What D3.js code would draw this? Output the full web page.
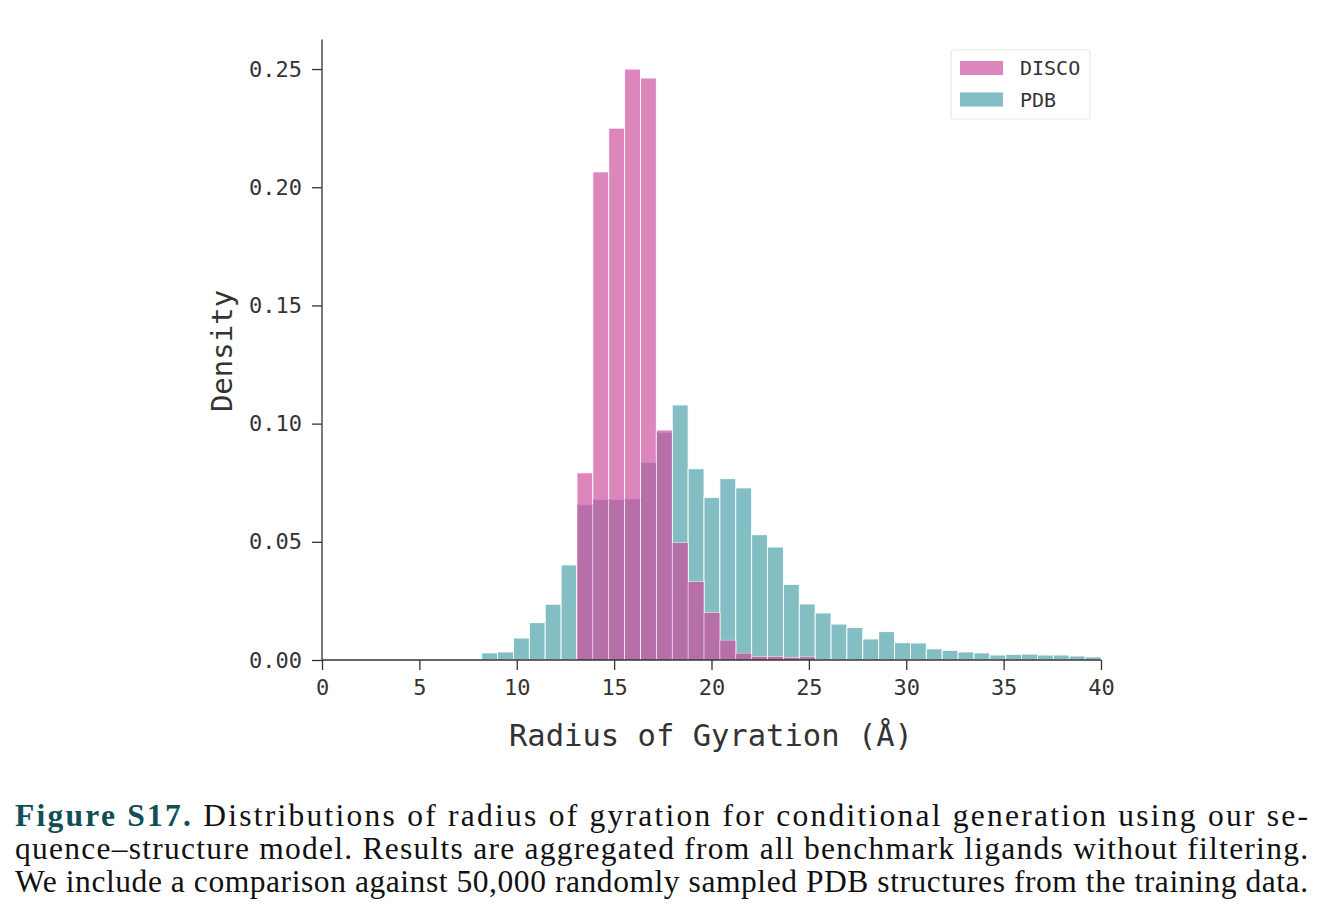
<!DOCTYPE html>
<html><head><meta charset="utf-8">
<script src="https://cdn.jsdelivr.net/npm/d3@7"></script>
<style>html,body{margin:0;padding:0;background:#fff;}svg{display:block;}</style>
</head><body>
<svg id="c" width="1326" height="922"></svg>
<script>
// ---- data ----
const binStart = 8.2;
const binEnd = 40;
const pdbDensity = [0.0030,0.0034,0.0093,0.0158,0.0236,0.0402,0.0656,0.0678,0.0678,0.0681,
  0.0835,0.0963,0.1079,0.0809,0.0688,0.0767,0.0728,0.0530,0.0478,0.0320,
  0.0237,0.0199,0.0152,0.0138,0.0089,0.0120,0.0073,0.0072,0.0047,0.0041,
  0.0034,0.0030,0.0021,0.0024,0.0025,0.0021,0.0021,0.0017,0.0013];
const discoDensity = [0,0,0,0,0,0,0.0792,0.2065,0.2250,0.2500,
  0.2462,0.0973,0.0496,0.0331,0.0200,0.0083,0.0028,0.0014,0.0014,0.0010,
  0.0012,0,0,0,0,0,0,0,0,0,0,0,0,0,0,0,0,0,0];
const xTicks = [0,5,10,15,20,25,30,35,40];
const yTicks = [0,0.05,0.10,0.15,0.20,0.25];
const seriesNames = ["DISCO","PDB"];
const captionLines = [
  "Distributions of radius of gyration for conditional generation using our se-",
  "quence\u2013structure model. Results are aggregated from all benchmark ligands without filtering.",
  "We include a comparison against 50,000 randomly sampled PDB structures from the training data."
];

const nb = pdbDensity.length;
const bw = (binEnd - binStart) / nb;
const bins = d3.range(nb).map(i => ({x0: binStart + i*bw, x1: binStart + (i+1)*bw, pdb: pdbDensity[i], disco: discoDensity[i]}));

const svg = d3.select("#c");
const x = d3.scaleLinear().domain([0,40]).range([322,1101]);
const y = d3.scaleLinear().domain([0,0.2625]).range([660,39.5]);

const PINK = "#dd86bd", TEAL = "#82bec3", MIX = "#b66fa7";
const mono = "'DejaVu Sans Mono', monospace";

const g = svg.append("g");
// PDB bars
g.selectAll("rect.pdb").data(bins).join("rect")
  .attr("x", d => x(d.x0)).attr("width", d => x(d.x1)-x(d.x0))
  .attr("y", d => y(d.pdb)).attr("height", d => y(0)-y(d.pdb))
  .attr("fill", TEAL).attr("stroke", "#fff").attr("stroke-width", 0.9);
// DISCO bars
g.selectAll("rect.disco").data(bins.filter(d=>d.disco>0)).join("rect")
  .attr("x", d => x(d.x0)).attr("width", d => x(d.x1)-x(d.x0))
  .attr("y", d => y(d.disco)).attr("height", d => y(0)-y(d.disco))
  .attr("fill", PINK).attr("stroke", "#fff").attr("stroke-width", 0.9);
// overlap
g.selectAll("rect.mix").data(bins.filter(d=>d.disco>0)).join("rect")
  .attr("x", d => x(d.x0)+0.45).attr("width", d => x(d.x1)-x(d.x0)-0.9)
  .attr("y", d => y(Math.min(d.disco,d.pdb))).attr("height", d => y(0)-y(Math.min(d.disco,d.pdb)))
  .attr("fill", MIX);
g.selectAll("line.mix").data(bins.filter(d=>d.disco>0 && d.pdb<d.disco)).join("line")
  .attr("x1", d => x(d.x0)).attr("x2", d => x(d.x1))
  .attr("y1", d => y(d.pdb)).attr("y2", d => y(d.pdb))
  .attr("stroke", "#c98cbb").attr("stroke-width", 0.8);

// axes
const xAxis = svg.append("g").attr("transform","translate(0,660)")
  .call(d3.axisBottom(x).tickValues(xTicks).tickFormat(d3.format("d")).tickSize(10).tickPadding(9));
const yAxis = svg.append("g").attr("transform","translate(322,0)")
  .call(d3.axisLeft(y).tickValues(yTicks).tickFormat(d3.format(".2f")).tickSize(10).tickPadding(10));
[xAxis,yAxis].forEach(a => {
  a.select(".domain").attr("stroke","#333").attr("stroke-width",1.3);
  a.selectAll(".tick line").attr("stroke","#333").attr("stroke-width",1.3);
  a.selectAll(".tick text").attr("fill","#333").style("font-family",mono).style("font-size","22px");
});
xAxis.select(".domain").attr("d", `M${x(0)},0H${x(40)}`);
yAxis.select(".domain").attr("d", `M0,${y(0)}V${y(0.2625)}`);

// axis labels
svg.append("text").attr("x", 711).attr("y", 746).attr("text-anchor","middle")
  .style("font-family",mono).style("font-size","30.5px").attr("fill","#333")
  .text("Radius of Gyration (\u00c5)");
svg.append("text").attr("transform","translate(232,351) rotate(-90)").attr("text-anchor","middle")
  .style("font-family",mono).style("font-size","29px").attr("fill","#333")
  .text("Density");

// legend
const lg = svg.append("g");
lg.append("rect").attr("x",951).attr("y",50).attr("width",139).attr("height",69).attr("rx",3)
  .attr("fill","#fff").attr("stroke","#ebe8dc").attr("stroke-width",1.2);
const legColors = [PINK, TEAL];
seriesNames.forEach((n,i) => {
  lg.append("rect").attr("x",960).attr("y",61+i*31.5).attr("width",43).attr("height",14).attr("fill",legColors[i]);
  lg.append("text").attr("x",1020).attr("y",75+i*31.5).style("font-family",mono).style("font-size","20px")
    .attr("fill","#333").text(n);
});

// caption
const serif = "'Liberation Serif', serif";
const cap = svg.append("g");
const l1 = cap.append("text").attr("x",15).attr("y",826).style("font-family",serif).style("font-size","31.5px")
  .attr("textLength",1293).attr("lengthAdjust","spacing");
l1.append("tspan").attr("font-weight","bold").attr("fill","#114e58").text("Figure S17.");
l1.append("tspan").attr("fill","#111").text(" " + captionLines[0]);
captionLines.slice(1).forEach((t,i) => {
  cap.append("text").attr("x",15).attr("y",859+i*33).style("font-family",serif).style("font-size","31.5px")
    .attr("fill","#111").attr("textLength",1293).attr("lengthAdjust","spacing").text(t);
});
</script>
</body></html>
